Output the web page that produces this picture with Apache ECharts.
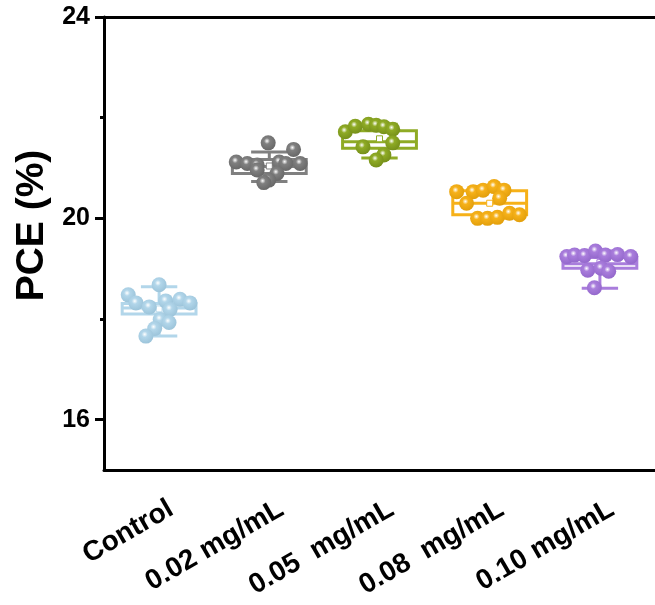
<!DOCTYPE html>
<html>
<head>
<meta charset="utf-8">
<script src="https://cdn.jsdelivr.net/npm/echarts@6/dist/echarts.min.js"></script>
<style>
  html, body { margin: 0; padding: 0; background: #fff; }
  #chart { width: 655px; height: 605px; }
</style>
</head>
<body>
<div id="chart"></div>
<script>
// Group labels along the x axis
const categories = ['Control', '0.02 mg/mL', '0.05  mg/mL', '0.08  mg/mL', '0.10 mg/mL'];

// Box statistics per group: [min, Q1, median, Q3, max]
const boxStats = [
  [17.66, 18.10, 18.22, 18.31, 18.64],
  [20.73, 20.89, 21.03, 21.17, 21.32],
  [21.20, 21.39, 21.52, 21.74, 21.87],
  [20.00, 20.07, 20.30, 20.55, 20.63],
  [18.61, 19.01, 19.10, 19.22, 19.35]
];

// Mean value per group
const means = [18.20, 21.04, 21.58, 20.30, 19.12];

// Individual device PCE values (%) per group
const pceControl = [18.68, 18.48, 18.32, 18.36, 18.39, 18.32, 18.24, 18.19, 17.99, 17.93, 17.81, 17.66];
const pce002 = [21.50, 21.37, 21.12, 21.09, 21.06, 21.12, 21.09, 21.09, 20.96, 20.89, 20.76, 20.71];
const pce005 = [21.72, 21.83, 21.87, 21.85, 21.82, 21.77, 21.42, 21.50, 21.26, 21.16];
const pce008 = [20.53, 20.53, 20.56, 20.63, 20.56, 20.30, 20.40, 20.00, 20.00, 20.02, 20.10, 20.07];
const pce010 = [19.24, 19.27, 19.26, 19.35, 19.27, 19.28, 19.24, 18.97, 19.01, 18.95, 18.62];

// Horizontal jitter of each device point, in category widths
const jitterControl = [0.00, -0.28, -0.21, 0.06, 0.19, 0.28, -0.09, 0.10, 0.01, 0.09, -0.04, -0.12];
const jitter002 = [-0.01, 0.22, -0.30, -0.20, -0.11, 0.09, 0.15, 0.28, -0.11, 0.07, -0.005, -0.05];
const jitter005 = [-0.31, -0.22, -0.10, -0.03, 0.04, 0.12, -0.15, 0.12, 0.04, -0.03];
const jitter008 = [-0.30, -0.15, -0.06, 0.04, 0.13, -0.21, 0.09, -0.11, -0.02, 0.07, 0.18, 0.27];
const jitter010 = [-0.30, -0.23, -0.14, -0.04, 0.05, 0.16, 0.28, -0.11, 0.01, 0.08, -0.05];

// Y axis tick labels
const majorTicks = [16, 20, 24];
const minorTicks = [18, 22];

const groupValues = [pceControl, pce002, pce005, pce008, pce010];
const groupJitter = [jitterControl, jitter002, jitter005, jitter008, jitter010];
const colors = ['#b2d6ea', '#808080', '#8fab25', '#f6b119', '#a97ddc'];
const darkColors = ['#9cc4da', '#686868', '#76901a', '#e29f0c', '#9468cc'];

const FONT = '"Liberation Sans", Arial, sans-serif';
const BOX_W = 0.67;
const CAP_W = 0.33;

function ballColor(i) {
  return {
    type: 'radial', x: 0.42, y: 0.38, r: 0.62,
    colorStops: [
      { offset: 0, color: '#ffffff' },
      { offset: 0.32, color: colors[i] },
      { offset: 1, color: darkColors[i] }
    ]
  };
}

const boxData = boxStats.map((s, i) => [i].concat(s, [means[i]]));

const boxSeries = {
  type: 'custom',
  xAxisIndex: 1,
  yAxisIndex: 0,
  z: 2,
  data: boxData,
  encode: { x: 0, y: [1, 2, 3, 4, 5] },
  renderItem: function (params, api) {
    const i = api.value(0);
    const col = colors[i];
    const pMin = api.coord([i, api.value(1)]);
    const pQ1 = api.coord([i, api.value(2)]);
    const pMed = api.coord([i, api.value(3)]);
    const pQ3 = api.coord([i, api.value(4)]);
    const pMax = api.coord([i, api.value(5)]);
    const pMean = api.coord([i, api.value(6)]);
    const bw = api.size([BOX_W, 0])[0];
    const cw = api.size([CAP_W, 0])[0];
    const style = { stroke: col, lineWidth: 3, fill: null };
    const cx = pQ1[0];
    return {
      type: 'group',
      children: [
        { type: 'line', shape: { x1: cx, y1: pQ3[1], x2: cx, y2: pMax[1] }, style: style },
        { type: 'line', shape: { x1: cx, y1: pQ1[1], x2: cx, y2: pMin[1] }, style: style },
        { type: 'line', shape: { x1: cx - cw / 2, y1: pMax[1], x2: cx + cw / 2, y2: pMax[1] }, style: style },
        { type: 'line', shape: { x1: cx - cw / 2, y1: pMin[1], x2: cx + cw / 2, y2: pMin[1] }, style: style },
        { type: 'rect', shape: { x: cx - bw / 2, y: pQ3[1], width: bw, height: pQ1[1] - pQ3[1] }, style: { stroke: col, lineWidth: 3, fill: '#ffffff' } },
        { type: 'line', shape: { x1: cx - bw / 2, y1: pMed[1], x2: cx + bw / 2, y2: pMed[1] }, style: style },
        { type: 'rect', shape: { x: cx - 3, y: pMean[1] - 3, width: 6, height: 6 }, style: { stroke: col, lineWidth: 1, fill: '#ffffff' } }
      ]
    };
  }
};

const pointSeries = groupValues.map((vals, i) => ({
  type: 'scatter',
  xAxisIndex: 1,
  yAxisIndex: 0,
  z: 3,
  symbol: 'circle',
  symbolSize: 15,
  itemStyle: { color: ballColor(i), opacity: 1 },
  data: vals.map((v, k) => [i + groupJitter[i][k], v])
}));

const chart = echarts.init(document.getElementById('chart'), null, { renderer: 'canvas' });
chart.setOption({
  animation: false,
  backgroundColor: '#ffffff',
  grid: { left: 104, right: -10.5, top: 17, bottom: 135 },
  xAxis: [
    {
      type: 'category',
      data: categories,
      position: 'bottom',
      boundaryGap: true,
      axisLine: { lineStyle: { color: '#000', width: 3 } },
      axisTick: { alignWithLabel: true, length: 7, lineStyle: { color: '#000', width: 3 } },
      axisLabel: {
        rotate: 30, margin: 44, color: '#000', padding: [0, -14, 0, 0],
        fontFamily: FONT, fontWeight: 'bold', fontSize: 28, interval: 0
      },
      splitLine: { show: false }
    },
    {
      type: 'value',
      position: 'top',
      min: -0.5, max: 4.5,
      axisLine: { show: true, onZero: false, lineStyle: { color: '#000', width: 3 } },
      axisTick: { show: false },
      axisLabel: { show: false },
      splitLine: { show: false }
    }
  ],
  yAxis: [
    {
      type: 'value',
      position: 'left',
      min: 15, max: 24,
      name: 'PCE (%)',
      nameLocation: 'middle',
      nameGap: 49,
      nameTextStyle: {
        fontFamily: FONT, fontWeight: 'bold', fontSize: 39, color: '#000',
        padding: [0, 0, 0, 36]
      },
      axisLine: { show: true, onZero: false, lineStyle: { color: '#000', width: 3 } },
      axisTick: { show: true, length: 9, customValues: majorTicks, lineStyle: { color: '#000', width: 3 } },
      axisLabel: {
        customValues: majorTicks, margin: 14, color: '#000',
        fontFamily: FONT, fontWeight: 'bold', fontSize: 25
      },
      splitLine: { show: false }
    },
    {
      type: 'value',
      position: 'left',
      min: 15, max: 24,
      axisLine: { show: false, onZero: false },
      axisTick: { show: true, length: 4, customValues: minorTicks, lineStyle: { color: '#000', width: 3 } },
      axisLabel: { show: false },
      splitLine: { show: false }
    }
  ],
  series: [boxSeries].concat(pointSeries)
});
</script>
</body>
</html>
